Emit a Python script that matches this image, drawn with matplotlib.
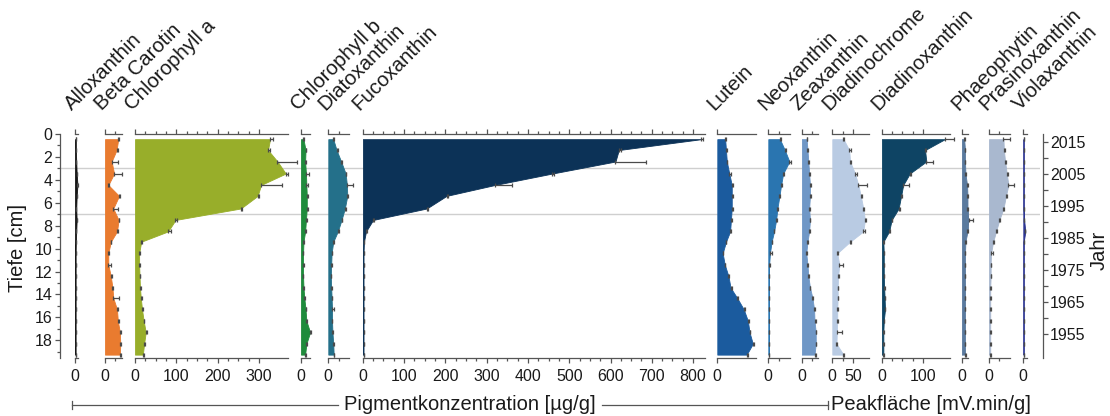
import numpy as np
import matplotlib.pyplot as plt
from matplotlib.lines import Line2D
import matplotlib.transforms as mtransforms

plt.rcParams['font.family'] = ['Liberation Sans', 'DejaVu Sans']

# sample depths [cm]
depth = [0.45, 1.4, 2.4, 3.45, 4.45, 5.4, 6.5, 7.5, 8.5, 9.4,
         10.4, 11.4, 12.4, 13.4, 14.3, 15.3, 16.3, 17.3, 18.3, 19.25]

# pigment values and (positive) errors per depth
alloxanthin = [2, 2, 3, 4, 6, 4, 3, 4, 3, 2, 1.5, 1.5, 1.5, 1.5, 1.5, 1.5, 1.5, 1.5, 1.5, 1.5]
alloxanthin_err = [0.5, 0.5, 0.5, 0.5, 0.5, 0.5, 0.5, 0.5, 0.5, 0.5, 0.5, 0.5, 0.5, 0.5, 0.5, 0.5, 0.5, 0.5, 0.5, 0.5]
beta_carotin = [32, 28, 16, 22, 8, 34, 20, 33, 29, 14, 8, 8, 14, 18, 20, 29, 31, 36, 37, 36]
beta_carotin_err = [2, 3, 16, 18, 2, 3, 12, 2, 3, 1, 2, 7, 2, 2, 15, 2, 2, 2, 2, 2]
chl_a = [327, 322, 345, 365, 305, 297, 256, 98, 80, 15, 10, 10, 11, 12, 14, 17, 21, 26, 22, 19]
chl_a_err = [8, 5, 47, 5, 50, 4, 3, 4, 8, 2, 2, 2, 2, 2, 2, 2, 2, 2, 2, 2]
chl_b = [6, 11, 10, 12, 13, 14, 14, 12, 10, 6, 5, 5, 5, 6, 8, 11, 13, 22, 13, 10]
chl_b_err = [2, 2, 2, 7, 3, 2, 2, 2, 2, 1, 1, 2, 1, 1, 1, 1, 1, 2, 1, 1]
diatoxanthin = [12, 20, 31, 42, 45, 46, 40, 32, 23, 12, 8, 7, 6, 7, 8, 9, 9, 10, 12, 13]
diatoxanthin_err = [2, 3, 2, 2, 16, 2, 2, 2, 3, 1, 1, 2, 1, 1, 1, 4, 1, 1, 1, 1]
fucoxanthin = [820, 620, 612, 459, 320, 203, 155, 25, 8, 3, 2, 2, 2, 2, 2, 2, 2, 2, 2, 2]
fucoxanthin_err = [3, 6, 74, 4, 41, 3, 3, 3, 2, 1, 1, 1, 1, 1, 1, 1, 1, 1, 1, 1]
lutein = [19, 21, 23, 29, 35, 35, 35, 33, 31, 21, 13, 18, 27, 32, 48, 64, 74, 78, 86, 71]
lutein_err = [2, 2, 1, 3, 3, 2, 2, 2, 2, 1, 1, 1, 1, 3, 2, 2, 2, 2, 3, 3]
neoxanthin = [28, 40, 51, 36, 31, 27, 22, 19, 14, 8, 4, 2, 1.5, 1.5, 1.5, 1.5, 1.5, 1.5, 1.5, 1.5]
neoxanthin_err = [2, 2, 3, 2, 2, 1, 2, 1, 1, 2, 4, 1, 1, 1, 1, 1, 1, 1, 1, 1]
zeaxanthin = [12, 14, 16, 18, 20, 20, 18, 20, 18, 14, 11, 14, 16, 20, 26, 30, 31, 34, 34, 31]
zeaxanthin_err = [1, 1, 1, 1, 3, 2, 1, 1, 1, 1, 1, 1, 1, 1, 1, 1, 3, 1, 1, 3]
diadinochrome = [27, 41, 43, 55, 63, 69, 75, 79, 75, 43, 12, 17, 14, 13, 13, 12, 12, 11, 10, 27]
diadinochrome_err = [2, 5, 3, 4, 20, 3, 2, 2, 4, 3, 2, 8, 2, 2, 2, 2, 2, 13, 2, 2]
diadinoxanthin = [153, 105, 108, 68, 52, 47, 41, 24, 18, 4, 5, 5, 5, 6, 7, 8, 5, 4, 4, 4]
diadinoxanthin_err = [23, 3, 16, 4, 14, 2, 3, 2, 3, 1, 1, 1, 1, 1, 1, 1, 1, 1, 1, 1]
phaeophytin = [6, 8, 8, 9, 13, 14, 14, 18, 14, 9, 8, 8, 8, 8, 8, 8, 8, 8, 8, 8]
phaeophytin_err = [1, 1, 1, 1, 2, 1, 2, 9, 1, 1, 1, 1, 1, 1, 1, 1, 1, 1, 1, 2]
prasinoxanthin = [35, 36, 39, 43, 47, 41, 35, 25, 17, 10, 5, 4, 4, 3, 3, 3, 3, 3, 3, 3]
prasinoxanthin_err = [16, 2, 3, 2, 13, 2, 2, 2, 2, 1, 5, 1, 1, 1, 1, 1, 1, 1, 1, 1]
violaxanthin = [1, 1, 1, 1, 1, 1, 1, 2, 5, 1, 1, 1, 1, 1, 1, 1, 1, 1, 1, 1]
violaxanthin_err = [0, 0, 0, 0, 0, 0, 0, 0, 0, 0, 0, 0, 0, 0, 0, 0, 0, 0, 0, 0]

names = ['Alloxanthin', 'Beta Carotin', 'Chlorophyll a', 'Chlorophyll b', 'Diatoxanthin',
         'Fucoxanthin', 'Lutein', 'Neoxanthin', 'Zeaxanthin', 'Diadinochrome',
         'Diadinoxanthin', 'Phaeophytin', 'Prasinoxanthin', 'Violaxanthin']
values = [alloxanthin, beta_carotin, chl_a, chl_b, diatoxanthin, fucoxanthin, lutein,
          neoxanthin, zeaxanthin, diadinochrome, diadinoxanthin, phaeophytin,
          prasinoxanthin, violaxanthin]
errors = [alloxanthin_err, beta_carotin_err, chl_a_err, chl_b_err, diatoxanthin_err,
          fucoxanthin_err, lutein_err, neoxanthin_err, zeaxanthin_err, diadinochrome_err,
          diadinoxanthin_err, phaeophytin_err, prasinoxanthin_err, violaxanthin_err]
colors = ['#151515', '#E97B2F', '#98AE2A', '#1F8B3C', '#24708A', '#0C3257', '#1B5B9E',
          '#2A75B0', '#6F97C6', '#B9CBE3', '#0E4464', '#5A7A9E', '#A9B8CF', '#2C3592']

# axis ranges and ticks of each panel
panel_max = [8, 40, 371, 22, 51, 829, 94, 52, 40, 88, 165, 16, 51, 8]
major_ticks = [[0], [0], [0, 100, 200, 300], [0], [0], list(range(0, 801, 100)), [0],
               [0], [0], [0, 50], [0, 100], [0], [0], [0]]
minor_ticks = [[], [25], [t for t in range(25, 300, 25) if t % 100], [], [25],
               [t for t in range(25, 800, 25) if t % 100], [], [25], [25], [25],
               [25, 50, 75], [], [25], []]

# year axis
year_top = 2017.6
year_bottom = 1947.7
year_labels = [1955, 1965, 1975, 1985, 1995, 2005, 2015]
year_minor = [1960, 1970, 1980, 1990, 2000, 2010]

# horizontal reference lines [cm]
ref_depths = [3, 7]

# ---------------------------------------
W, H = 1110, 416
fig = plt.figure(figsize=(W / 100, H / 100), dpi=100)

# layout in pixels
panel_left = [75, 105, 135, 301, 328.3, 362.7, 717.3, 768.3, 801.7, 832.3, 881.7, 961.7, 989, 1023.3]
top_px, bot_px = 134, 357.5
depth_max = 19.5
px_per_unit = 0.413
grey = '#555555'
txt = '#1a1a1a'


def fx(x):
    return x / W


def fy(y):
    return 1 - y / H


ax_bottom = fy(bot_px)
ax_height = (bot_px - top_px) / H

# reference lines behind everything
bg = fig.add_axes([fx(61), ax_bottom, fx(1040 - 61), ax_height], zorder=0)
bg.set_ylim(depth_max, 0)
bg.axis('off')
for d in ref_depths:
    bg.axhline(d, color='#cfcfcf', lw=1.0)

for i, name in enumerate(names):
    w = panel_max[i] * px_per_unit
    ax = fig.add_axes([fx(panel_left[i]), ax_bottom, w / W, ax_height], zorder=1)
    ax.patch.set_alpha(0)
    ax.fill_betweenx(depth, 0, values[i], facecolor=colors[i], edgecolor=colors[i], lw=0.6)
    eb = ax.errorbar(values[i], depth, xerr=[np.zeros(len(depth)), errors[i]], fmt='none',
                     ecolor='#4a4a4a', elinewidth=0.9, capsize=1.7, capthick=0.9)
    for art in list(eb.lines[1]) + list(eb.lines[2]):
        art.set_clip_on(False)
    ax.set_xlim(0, panel_max[i])
    ax.set_ylim(depth_max, 0)
    ax.spines['left'].set_visible(False)
    ax.spines['right'].set_visible(False)
    for s in ['top', 'bottom']:
        ax.spines[s].set_color(grey)
        ax.spines[s].set_linewidth(0.9)
    ax.set_yticks([])
    ax.xaxis.set_ticks_position('both')
    ax.set_xticks(major_ticks[i])
    ax.set_xticks(minor_ticks[i], minor=True)
    ax.tick_params(axis='x', which='both', direction='out', color=grey, width=0.9,
                   labelsize=11.5, labelcolor=txt, pad=4.5, labeltop=False)
    ax.tick_params(axis='x', which='major', length=3.5)
    ax.tick_params(axis='x', which='minor', length=2.5)
    trans = mtransforms.offset_copy(ax.transAxes, fig=fig, x=-3, y=23, units='dots')
    ax.text(0, 1, name, transform=trans, rotation=45, rotation_mode='anchor',
            ha='left', va='baseline', fontsize=14.7, color=txt)

# depth axis
axd = fig.add_axes([fx(60), ax_bottom, 0.0001, ax_height], zorder=1)
axd.patch.set_alpha(0)
axd.set_ylim(depth_max, 0)
for s in ['top', 'bottom', 'right']:
    axd.spines[s].set_visible(False)
axd.spines['left'].set_color(grey)
axd.spines['left'].set_linewidth(0.9)
axd.set_xticks([])
axd.set_yticks(range(0, 19, 2))
axd.set_yticks(range(1, 20, 2), minor=True)
axd.tick_params(axis='y', which='both', direction='out', color=grey, width=0.9,
                labelsize=11.5, labelcolor=txt, pad=2)
axd.tick_params(axis='y', which='major', length=3.5)
axd.tick_params(axis='y', which='minor', length=2.5)

# year axis
axy = fig.add_axes([fx(1043), ax_bottom, 0.0001, ax_height], zorder=1)
axy.patch.set_alpha(0)
axy.set_ylim(year_bottom, year_top)
for s in ['top', 'bottom', 'left']:
    axy.spines[s].set_visible(False)
axy.spines['right'].set_color(grey)
axy.spines['right'].set_linewidth(0.9)
axy.set_xticks([])
axy.yaxis.tick_right()
axy.set_yticks(year_labels)
axy.set_yticks(year_minor, minor=True)
axy.tick_params(axis='y', which='both', direction='out', color=grey, width=0.9, length=3.5,
                labelsize=11.5, labelcolor=txt, pad=1.5)

fig.text(fx(17.5), fy(248.5), 'Tiefe [cm]', rotation=90, ha='center', va='center',
         fontsize=14.5, color=txt)
fig.text(fx(1099), fy(250), 'Jahr', rotation=90, ha='center', va='center',
         fontsize=14.5, color=txt)

# group brackets under the panels
yb = fy(405)
for x0, x1 in [(72, 338), (602, 828)]:
    fig.add_artist(Line2D([fx(x0), fx(x1)], [yb, yb], transform=fig.transFigure, color=grey, lw=0.9))
for xt in [72, 828]:
    fig.add_artist(Line2D([fx(xt), fx(xt)], [fy(401), fy(409)], transform=fig.transFigure, color=grey, lw=0.9))
fig.text(fx(470), yb, 'Pigmentkonzentration [µg/g]', ha='center', va='center', fontsize=14.5, color=txt)
fig.text(fx(831), yb, 'Peakfläche [mV.min/g]', ha='left', va='center', fontsize=14.5, color=txt)

plt.savefig('out.png', dpi=100)
